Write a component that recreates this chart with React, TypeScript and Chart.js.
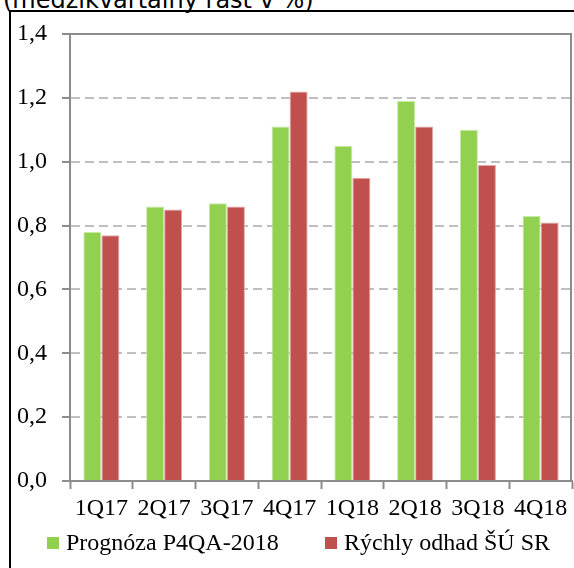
import React, { useEffect, useRef } from "react";
import { Chart, registerables } from "chart.js";

Chart.register(...registerables);

const categories = ["1Q17", "2Q17", "3Q17", "4Q17", "1Q18", "2Q18", "3Q18", "4Q18"];
const forecastLabel = "Prognóza P4QA-2018";
const forecastValues = [0.78, 0.86, 0.87, 1.11, 1.05, 1.19, 1.10, 0.83];
const flashLabel = "Rýchly odhad ŠÚ SR";
const flashValues = [0.77, 0.85, 0.86, 1.22, 0.95, 1.11, 0.99, 0.81];
const titleText = "(medzikvartálny rast v %)";

const SERIF = "'Liberation Serif', 'Times New Roman', serif";

const frameLines = {
  id: "frameLines",
  afterDatasetsDraw(chart: any) {
    const { ctx, chartArea } = chart;
    ctx.save();
    ctx.strokeStyle = "#8C8C8C";
    ctx.lineWidth = 2;
    ctx.beginPath();
    ctx.moveTo(chartArea.left, chartArea.top);
    ctx.lineTo(chartArea.right - 1, chartArea.top);
    ctx.lineTo(chartArea.right - 1, chartArea.bottom);
    ctx.stroke();
    ctx.restore();
  },
};

const customLegend = {
  id: "customLegend",
  afterDraw(chart: any) {
    const { ctx } = chart;
    const xs = [47, 325];
    const yMid = 543;
    ctx.save();
    ctx.font = `24px ${SERIF}`;
    ctx.textBaseline = "middle";
    ctx.textAlign = "left";
    chart.data.datasets.forEach((ds: any, i: number) => {
      const x = xs[i];
      ctx.fillStyle = ds.backgroundColor;
      ctx.fillRect(x, yMid - 6, 12, 12);
      ctx.fillStyle = "#000";
      ctx.fillText(ds.label, x + 19, yMid + 1);
    });
    ctx.restore();
  },
};

export default function App() {
  const ref = useRef<HTMLCanvasElement>(null);
  useEffect(() => {
    if (!ref.current) return;
    const chart = new Chart(ref.current, {
      type: "bar",
      data: {
        labels: categories,
        datasets: [
          {
            label: forecastLabel,
            data: forecastValues,
            backgroundColor: "#92D050",
            borderColor: "#C9E9A8",
            borderWidth: 1,
            categoryPercentage: 0.575,
            barPercentage: 1.0,
          },
          {
            label: flashLabel,
            data: flashValues,
            backgroundColor: "#C0504D",
            borderColor: "#E2A9A7",
            borderWidth: 1,
            categoryPercentage: 0.575,
            barPercentage: 1.0,
          },
        ],
      },
      options: {
        animation: false,
        responsive: false,
        maintainAspectRatio: false,
        layout: { padding: { left: 0, top: 34, right: 2, bottom: 0 } },
        plugins: {
          legend: { display: false },
          tooltip: { enabled: false },
          title: { display: false },
        },
        scales: {
          x: {
            afterFit: (scale: any) => {
              scale.height = 87;
            },
            grid: {
              display: true,
              drawOnChartArea: false,
              tickLength: 8,
              tickColor: "#8C8C8C",
              tickWidth: 2,
              offset: true,
            },
            border: { color: "#8C8C8C", width: 2 },
            ticks: {
              color: "#000",
              font: { family: SERIF, size: 24 },
              padding: 5,
              maxRotation: 0,
              autoSkip: false,
            },
          },
          y: {
            min: 0,
            max: 1.4,
            afterFit: (scale: any) => {
              scale.width = 70;
            },
            grid: {
              color: "#BFBFBF",
              lineWidth: 2,
              tickLength: 8,
              tickColor: "#8C8C8C",
              tickWidth: 2,
            },
            border: { color: "#8C8C8C", width: 2, dash: [9, 5] },
            ticks: {
              stepSize: 0.2,
              color: "#000",
              font: { family: SERIF, size: 24 },
              padding: 15,
              callback: (v: any) => Number(v).toFixed(1).replace(".", ","),
            },
          },
        },
      },
      plugins: [frameLines, customLegend],
    });
    return () => chart.destroy();
  }, []);

  return (
    <div style={{ position: "fixed", left: 0, top: 0, width: 574, height: 568, overflow: "hidden", background: "#fff" }}>
      <div
        style={{
          position: "absolute",
          left: 3,
          top: -12,
          fontFamily: "'DejaVu Sans', Tahoma, sans-serif",
          fontSize: 24,
          lineHeight: "24px",
          whiteSpace: "nowrap",
          color: "#000",
        }}
      >
        {titleText}
      </div>
      <div
        style={{
          position: "absolute",
          left: 9,
          top: 10,
          width: 700,
          height: 700,
          borderLeft: "2px solid #000",
          borderTop: "2px solid #000",
        }}
      />
      <canvas ref={ref} width={574} height={568} style={{ position: "absolute", left: 0, top: 0, width: 574, height: 568 }} />
    </div>
  );
}
